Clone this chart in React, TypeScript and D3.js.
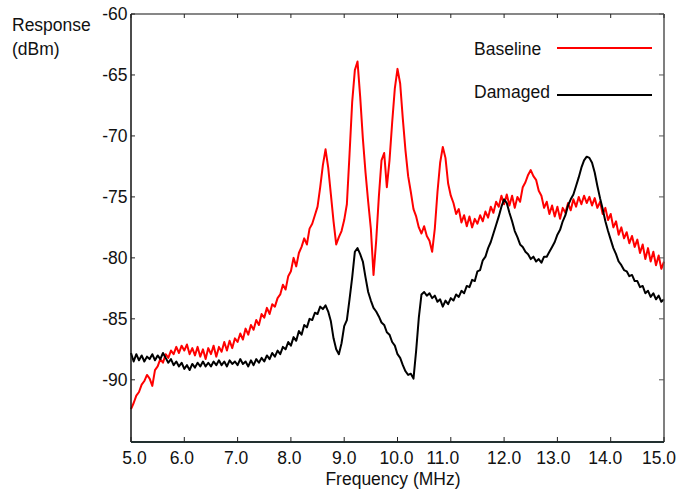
import React from 'react';
import * as d3 from 'd3';

// sample frequencies (MHz)
const freqs = [
  5.00, 5.05, 5.10, 5.15, 5.20, 5.25, 5.30, 5.35, 5.40, 5.45,
  5.50, 5.55, 5.60, 5.65, 5.70, 5.75, 5.80, 5.85, 5.90, 5.95,
  6.00, 6.05, 6.10, 6.15, 6.20, 6.25, 6.30, 6.35, 6.40, 6.45,
  6.50, 6.55, 6.60, 6.65, 6.70, 6.75, 6.80, 6.85, 6.90, 6.95,
  7.00, 7.05, 7.10, 7.15, 7.20, 7.25, 7.30, 7.35, 7.40, 7.45,
  7.50, 7.55, 7.60, 7.65, 7.70, 7.75, 7.80, 7.85, 7.90, 7.95,
  8.00, 8.05, 8.10, 8.15, 8.20, 8.25, 8.30, 8.35, 8.40, 8.45,
  8.50, 8.55, 8.60, 8.65, 8.70, 8.75, 8.80, 8.85, 8.90, 8.95,
  9.00, 9.05, 9.10, 9.15, 9.20, 9.25, 9.30, 9.35, 9.40, 9.45,
  9.50, 9.55, 9.60, 9.65, 9.70, 9.75, 9.80, 9.85, 9.90, 9.95,
  10.00, 10.05, 10.10, 10.15, 10.20, 10.25, 10.30, 10.35, 10.40, 10.45,
  10.50, 10.55, 10.60, 10.65, 10.70, 10.75, 10.80, 10.85, 10.90, 10.95,
  11.00, 11.05, 11.10, 11.15, 11.20, 11.25, 11.30, 11.35, 11.40, 11.45,
  11.50, 11.55, 11.60, 11.65, 11.70, 11.75, 11.80, 11.85, 11.90, 11.95,
  12.00, 12.05, 12.10, 12.15, 12.20, 12.25, 12.30, 12.35, 12.40, 12.45,
  12.50, 12.55, 12.60, 12.65, 12.70, 12.75, 12.80, 12.85, 12.90, 12.95,
  13.00, 13.05, 13.10, 13.15, 13.20, 13.25, 13.30, 13.35, 13.40, 13.45,
  13.50, 13.55, 13.60, 13.65, 13.70, 13.75, 13.80, 13.85, 13.90, 13.95,
  14.00, 14.05, 14.10, 14.15, 14.20, 14.25, 14.30, 14.35, 14.40, 14.45,
  14.50, 14.55, 14.60, 14.65, 14.70, 14.75, 14.80, 14.85, 14.90, 14.95,
  15.00,
];

// Baseline response (dBm)
const baseline = [
  -92.4, -91.9, -91.3, -91.0, -90.4, -90.1, -89.6, -89.9, -90.5, -89.2,
  -88.9, -88.3, -88.6, -87.9, -88.2, -87.6, -87.9, -87.3, -87.8, -87.2,
  -87.6, -87.1, -87.9, -87.4, -88.0, -87.3, -88.1, -87.5, -88.3, -87.4,
  -87.9, -87.2, -88.1, -87.3, -87.7, -86.9, -87.6, -86.8, -87.4, -86.6,
  -86.9, -86.2, -86.7, -85.8, -86.3, -85.5, -85.9, -85.1, -85.5, -84.6,
  -84.9, -84.1, -84.6, -83.8, -84.0, -83.3, -83.0, -82.2, -82.6, -81.5,
  -81.1, -80.0, -80.7, -79.6, -79.1, -78.4, -78.9, -77.6, -77.2, -76.5,
  -75.8, -74.2, -72.4, -71.1, -72.6, -74.8, -77.0, -78.9, -78.3, -77.8,
  -76.9, -75.6, -71.5, -67.2, -64.6, -63.9, -66.8, -70.2, -73.0, -75.4,
  -77.6, -81.4, -78.6, -75.0, -72.0, -71.4, -74.2, -72.0, -68.9, -66.1,
  -64.5, -65.7, -68.6, -71.2, -73.3, -74.6, -76.0, -76.6, -77.5, -78.0,
  -77.4, -78.2, -78.6, -79.5, -77.6, -74.6, -72.2, -70.9, -71.8, -73.9,
  -74.9, -75.5, -76.4, -76.0, -77.1, -76.5, -77.4, -76.6, -77.5, -76.8,
  -77.2, -76.5, -77.0, -76.2, -76.7, -75.8, -76.3, -75.4, -75.8, -74.9,
  -75.6, -74.8, -75.7, -74.9, -75.9, -75.0, -75.4, -74.2, -73.8, -73.2,
  -72.8, -73.3, -73.6, -74.5, -74.9, -75.9, -75.4, -76.4, -75.7, -76.6,
  -75.8, -76.8, -75.9, -76.3, -75.5, -76.1, -75.2, -75.8, -75.0, -75.6,
  -74.9, -75.5, -75.0, -75.7, -75.1, -75.9, -75.4, -76.4, -75.9, -76.9,
  -76.4, -77.5, -77.0, -78.1, -77.5, -78.4, -77.9, -78.8, -78.2, -79.1,
  -78.5, -79.6, -78.9, -80.1, -79.2, -80.3, -79.5, -80.6, -79.8, -80.9,
  -80.3,
];

// Damaged response (dBm)
const damaged = [
  -87.8, -88.5, -87.9, -88.4, -88.0, -88.5, -88.1, -88.3, -87.9, -88.4,
  -88.0, -88.3, -87.8, -88.2, -88.6, -88.3, -88.8, -88.5, -88.9, -88.6,
  -89.1, -88.8, -89.2, -88.7, -89.0, -88.6, -88.9, -88.5, -88.9, -88.6,
  -88.9, -88.5, -88.8, -88.4, -88.8, -88.5, -88.9, -88.4, -88.7, -88.5,
  -88.8, -88.3, -88.7, -88.5, -88.9, -88.4, -88.8, -88.3, -88.6, -88.2,
  -88.5, -88.0, -88.3, -87.8, -88.1, -87.6, -87.9, -87.3, -87.5, -86.9,
  -87.2, -86.5, -86.8, -86.0, -86.3, -85.5, -85.7, -85.0, -85.1, -84.5,
  -84.6, -84.0, -84.2, -83.9, -84.4, -85.2, -86.6, -87.5, -87.9, -87.0,
  -85.6, -85.1, -83.4, -81.6, -79.5, -79.2, -79.7, -80.3, -81.6, -82.8,
  -83.5, -84.1, -84.4, -84.8, -85.3, -85.5, -86.1, -86.3, -86.9, -87.2,
  -87.9, -88.2, -88.8, -89.3, -89.6, -89.5, -89.9, -87.6, -84.9, -83.0,
  -82.8, -83.1, -82.9, -83.3, -83.1, -83.6, -83.4, -84.0, -83.5, -83.8,
  -83.3, -83.5, -83.0, -83.2, -82.7, -82.9, -82.3, -82.4, -81.8, -81.9,
  -81.1, -81.0, -80.2, -79.9, -79.2, -78.7, -78.0, -77.3, -76.6, -75.8,
  -75.2, -75.5, -76.3, -77.0, -77.8, -78.3, -78.9, -79.1, -79.5, -79.7,
  -80.1, -79.9, -80.3, -80.1, -80.4, -79.9, -79.9, -79.5, -79.1, -78.7,
  -78.1, -77.7, -77.0, -76.5, -75.7, -75.2, -74.8, -74.1, -73.4, -72.6,
  -72.0, -71.7, -71.8, -72.2, -73.0, -74.1, -75.1, -76.0, -77.0, -77.8,
  -78.5, -79.2, -79.7, -80.3, -80.6, -81.0, -81.1, -81.5, -81.4, -81.9,
  -81.9, -82.4, -82.3, -82.9, -82.7, -83.2, -82.9, -83.4, -83.1, -83.6,
  -83.4,
];

const xTicks = [5, 6, 7, 8, 9, 10, 11, 12, 13, 14, 15];
// small horizontal nudges of the tick labels, as placed in the original
const xLabelShift = [3.5, -2.5, -1.5, -1.5, 0, -1, -8, 0, -4, -5.5, -5];
const yTicks = [-60, -65, -70, -75, -80, -85, -90];

const series = [
  { name: 'Baseline', values: baseline, color: '#ff0000' },
  { name: 'Damaged', values: damaged, color: '#000000' },
];

const W = 678;
const H = 493;
const left = 131;
const right = 664;
const top = 14;
const bottom = 442;
const font = '"Liberation Sans", Arial, sans-serif';

const App = () => {
  const x = d3.scaleLinear().domain([5, 15]).range([left, right]);
  const y = d3.scaleLinear().domain([-95.1, -60]).range([bottom, top]);

  const line = d3.line<number>()
    .x((d, i) => x(freqs[i]))
    .y(d => y(d));

  const textStyle = { fontFamily: font, fontSize: 17.5, fill: '#111' };

  return (
    <svg width={W} height={H} style={{ position: 'absolute', left: 0, top: 0, background: '#fff' }}>
      {/* curves */}
      {series.map(s => (
        <path key={s.name} d={line(s.values) || ''} fill="none" stroke={s.color}
          strokeWidth={2} strokeLinejoin="round" />
      ))}

      {/* frame */}
      <line x1={left} x2={right} y1={top} y2={top} stroke="#111" strokeWidth={1.2} />
      <line x1={right} x2={right} y1={top} y2={bottom} stroke="#555" strokeWidth={1.5} />
      <line x1={left} x2={left} y1={top} y2={bottom} stroke="#111" strokeWidth={1.5} />
      <line x1={left} x2={right} y1={bottom} y2={bottom} stroke="#223030" strokeWidth={2} />

      {/* x ticks */}
      {xTicks.map((t, i) => (
        <g key={'x' + t}>
          <line x1={x(t)} x2={x(t)} y1={bottom} y2={bottom - 5} stroke="#222" />
          <line x1={x(t)} x2={x(t)} y1={top} y2={top + 4} stroke="#222" />
          <text x={x(t) + xLabelShift[i]} y={464} textAnchor="middle" style={textStyle}>{t.toFixed(1)}</text>
        </g>
      ))}

      {/* y ticks */}
      {yTicks.map(t => (
        <g key={'y' + t}>
          <line x1={left} x2={left + 4} y1={y(t)} y2={y(t)} stroke="#222" />
          <line x1={right} x2={right - 5} y1={y(t)} y2={y(t)} stroke="#555" />
          <text x={127.5} y={y(t) + 6} textAnchor="end" style={textStyle}>{t}</text>
        </g>
      ))}

      {/* axis titles */}
      <text x={12} y={31} style={textStyle}>Response</text>
      <text x={12} y={55} style={textStyle}>(dBm)</text>
      <text x={393} y={485} textAnchor="middle" style={textStyle}>Frequency (MHz)</text>

      {/* legend */}
      <text x={474} y={55} style={textStyle}>Baseline</text>
      <line x1={557} x2={652} y1={48} y2={48} stroke="#ff0000" strokeWidth={2} />
      <text x={474} y={98} style={textStyle}>Damaged</text>
      <line x1={557} x2={652} y1={95} y2={95} stroke="#000" strokeWidth={2} />
    </svg>
  );
};

export default App;
